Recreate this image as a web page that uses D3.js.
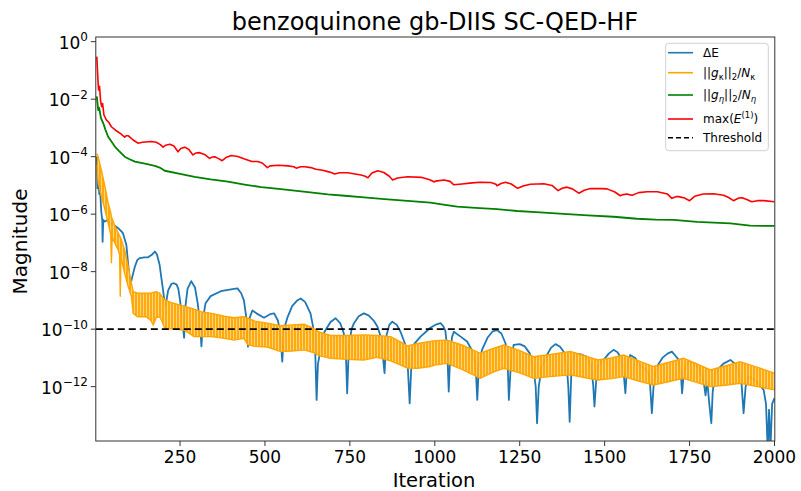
<!DOCTYPE html>
<html>
<head>
<meta charset="utf-8">
<script src="https://cdn.jsdelivr.net/npm/d3@7/dist/d3.min.js"></script>
<style>
  html, body { margin: 0; padding: 0; background: #fff; }
  svg text { font-family: "DejaVu Sans", sans-serif; fill: #000; }
</style>
</head>
<body>
<svg id="chart" width="801" height="491"></svg>
<script>
// ---------------- data ----------------
const title = "benzoquinone gb-DIIS SC-QED-HF";
const xLabel = "Iteration";
const yLabel = "Magnitude";
const xTicks = [250, 500, 750, 1000, 1250, 1500, 1750, 2000];
const yTicks = [1, 1e-2, 1e-4, 1e-6, 1e-8, 1e-10, 1e-12];
const yTickExponents = ["0", "\u22122", "\u22124", "\u22126", "\u22128", "\u221210", "\u221212"];
const threshold = 1e-10;

// ΔE  [iteration, value]
const deltaE = [
 [5,1.00e-4],[7,7.94e-6],[9,3.98e-5],[12,5.01e-6],[14,1.00e-5],[18,1.26e-6],[21,6.31e-7],[22,1.10e-7],[24,6.31e-7],
 [29,5.50e-7],[36,6.31e-7],[43,4.79e-7],[55,4.17e-7],[68,3.24e-7],[82,2.19e-7],[92,8.51e-8],[97,1.95e-8],[101,6.31e-9],
 [105,3.98e-9],[109,6.31e-9],[117,1.48e-8],[124,2.51e-8],[131,2.95e-8],[145,3.16e-8],[156,3.16e-8],[168,3.98e-8],
 [176,5.01e-8],[182,3.98e-8],[190,1.70e-8],[196,5.01e-9],[200,2.29e-9],[205,7.94e-10],[207,6.03e-10],[215,2.24e-9],
 [225,3.80e-9],[232,3.98e-9],[240,3.55e-9],[245,2.51e-9],[250,1.00e-9],[256,2.51e-10],[262,5.01e-11],[266,6.31e-10],
 [272,2.51e-9],[283,4.68e-9],[294,2.82e-9],[302,7.94e-10],[308,2.00e-10],[313,2.51e-11],[318,2.51e-10],[325,7.94e-10],
 [340,1.41e-9],[370,2.09e-9],[400,2.40e-9],[419,2.63e-9],[430,1.78e-9],[438,1.00e-9],[444,3.16e-10],[450,2.45e-11],
 [455,2.51e-10],[463,4.47e-10],[475,3.55e-10],[497,2.51e-10],[515,3.31e-10],[527,3.55e-10],[538,2.00e-10],[545,7.94e-11],
 [551,7.41e-12],[556,1.00e-10],[566,2.51e-10],[580,6.31e-10],[595,1.00e-9],[605,1.17e-9],[618,8.91e-10],[634,3.55e-10],
 [643,1.00e-10],[648,1.58e-11],[652,3.47e-13],[656,6.31e-12],[664,1.91e-11],[675,7.94e-11],[693,1.78e-10],[708,2.40e-10],
 [722,1.58e-10],[732,7.24e-11],[738,1.58e-11],[742,5.89e-13],[747,2.51e-11],[755,1.00e-10],[762,1.62e-10],[776,2.82e-10],
 [791,3.55e-10],[805,3.02e-10],[820,2.00e-10],[831,1.23e-10],[842,5.01e-11],[852,2.95e-12],[858,6.31e-11],[866,1.41e-10],
 [875,1.82e-10],[888,1.41e-10],[899,8.13e-11],[912,3.16e-11],[920,6.31e-12],[926,2.63e-13],[932,1.00e-11],[940,3.16e-11],
 [958,5.50e-11],[987,1.12e-10],[1005,1.48e-10],[1017,1.62e-10],[1025,1.26e-10],[1031,8.91e-11],[1036,2.51e-11],[1041,6.76e-13],
 [1046,2.00e-11],[1051,5.50e-11],[1056,8.13e-11],[1075,5.62e-11],[1095,3.72e-11],[1110,1.78e-11],[1120,6.31e-12],[1125,3.47e-13],
 [1130,6.31e-12],[1139,1.91e-11],[1155,5.01e-11],[1170,8.32e-11],[1183,9.33e-11],[1196,7.08e-11],[1208,3.24e-11],[1214,1.00e-11],
 [1218,3.47e-13],[1224,6.31e-12],[1232,2.82e-11],[1250,3.02e-11],[1265,2.51e-11],[1280,1.41e-11],[1291,3.80e-12],[1297,1.00e-12],
 [1301,5.37e-14],[1306,1.00e-12],[1315,5.01e-12],[1330,1.26e-11],[1342,2.24e-11],[1355,3.02e-11],[1368,2.51e-11],[1379,1.66e-11],
 [1388,6.31e-12],[1393,1.00e-12],[1397,6.03e-14],[1402,3.16e-12],[1409,1.45e-11],[1430,1.32e-11],[1448,1.10e-11],[1460,5.01e-12],
 [1466,1.26e-12],[1470,2.04e-13],[1475,1.58e-12],[1478,5.01e-12],[1497,8.51e-12],[1512,1.41e-11],[1526,1.91e-11],[1538,1.58e-11],
 [1546,1.10e-11],[1555,3.98e-12],[1561,5.89e-13],[1566,5.01e-12],[1575,1.26e-11],[1590,1.00e-11],[1605,5.01e-12],[1625,3.80e-12],
 [1633,1.58e-12],[1639,1.20e-13],[1645,1.58e-12],[1654,5.01e-12],[1670,1.00e-11],[1685,1.41e-11],[1698,1.66e-11],[1710,1.12e-11],
 [1718,8.51e-12],[1724,3.16e-12],[1728,5.89e-13],[1733,3.16e-12],[1746,7.41e-12],[1765,6.31e-12],[1780,3.98e-12],[1791,1.70e-12],
 [1797,5.01e-13],[1802,1.58e-12],[1808,2.51e-13],[1814,5.37e-14],[1818,6.31e-13],[1824,2.51e-12],[1831,3.80e-12],[1850,6.31e-12],
 [1870,8.51e-12],[1883,6.31e-12],[1894,3.80e-12],[1903,1.26e-12],[1909,1.20e-13],[1915,1.00e-12],[1924,2.24e-12],[1945,1.58e-12],
 [1960,1.00e-12],[1968,7.76e-13],[1975,2.51e-13],[1980,6.31e-15],[1984,1.58e-13],[1988,6.31e-15],[1993,2.51e-13],[2000,3.98e-13]
];

// ||g_kappa||_2/N_kappa : oscillating series, [iteration, upper swing, lower swing]
const gKappa = [
 [5,1.26e-4,5.01e-5],[9,1.00e-4,1.26e-5],[19,3.16e-5,3.98e-6],[29,9.12e-6,1.41e-6],[38,2.51e-6,5.01e-7],[46,1.12e-6,2.00e-7],
 [48,8.13e-7,1.95e-8],[50,7.08e-7,1.58e-7],[58,3.98e-7,1.00e-7],[68,2.19e-7,5.62e-8],[72,1.78e-7,3.98e-8],[74,1.58e-7,1.35e-9],
 [76,1.41e-7,3.16e-8],[87,5.62e-8,8.71e-9],[97,1.58e-8,3.16e-9],[107,3.98e-9,1.35e-9],[112,2.00e-9,3.55e-10],[125,1.78e-9,2.69e-10],
 [150,1.78e-9,2.69e-10],[164,1.78e-9,2.00e-10],[171,1.91e-9,1.41e-10],[180,2.00e-9,2.51e-10],[190,1.78e-9,2.69e-10],[196,1.41e-9,2.00e-10],
 [205,1.05e-9,1.07e-10],[230,7.94e-10,1.00e-10],[262,6.31e-10,9.33e-11],[291,5.01e-10,5.50e-11],[311,4.07e-10,5.50e-11],[343,3.55e-10,5.50e-11],
 [380,2.82e-10,4.79e-11],[409,2.51e-10,4.17e-11],[438,2.69e-10,4.79e-11],[450,2.40e-10,2.82e-11],[470,1.91e-10,2.51e-11],[507,1.62e-10,2.40e-11],
 [546,1.32e-10,1.66e-11],[580,1.41e-10,1.74e-11],[615,1.48e-10,1.91e-11],[640,1.12e-10,1.58e-11],[660,7.94e-11,1.20e-11],[693,6.03e-11,9.77e-12],
 [740,6.03e-11,8.91e-12],[791,6.31e-11,8.51e-12],[830,6.03e-11,1.05e-11],[870,5.50e-11,7.94e-12],[900,3.55e-11,5.62e-12],[919,2.63e-11,4.47e-12],
 [950,3.16e-11,4.37e-12],[987,3.72e-11,5.01e-12],[1000,3.98e-11,5.62e-12],[1036,4.17e-11,6.46e-12],[1080,2.82e-11,3.98e-12],[1134,1.45e-11,1.95e-12],
 [1170,2.09e-11,3.16e-12],[1203,2.82e-11,4.37e-12],[1250,1.78e-11,3.02e-12],[1291,1.10e-11,1.95e-12],[1340,1.32e-11,2.24e-12],[1399,1.66e-11,2.57e-12],
 [1440,1.20e-11,2.09e-12],[1480,8.51e-12,1.70e-12],[1520,1.00e-11,1.91e-12],[1556,1.26e-11,2.24e-12],[1600,7.94e-12,1.58e-12],[1644,5.01e-12,1.15e-12],
 [1690,7.08e-12,1.51e-12],[1732,9.77e-12,1.95e-12],[1770,6.31e-12,1.41e-12],[1811,3.80e-12,1.00e-12],[1855,5.25e-12,1.12e-12],[1899,7.41e-12,1.32e-12],
 [1950,4.68e-12,1.00e-12],[2000,2.95e-12,7.76e-13]
];

// ||g_eta||_2/N_eta
const gEta = [
 [5,1.26e-2],[9,4.17e-3],[12,5.01e-3],[17,2.24e-3],[24,1.45e-3],[30,8.91e-4],[38,5.01e-4],[45,3.80e-4],[58,2.24e-4],[70,1.58e-4],
 [87,1.00e-4],[100,8.32e-5],[117,6.76e-5],[150,5.62e-5],[176,4.79e-5],[190,4.17e-5],[205,3.24e-5],[250,2.51e-5],[293,2.00e-5],
 [340,1.62e-5],[391,1.35e-5],[440,1.07e-5],[489,8.71e-6],[540,7.59e-6],[587,6.61e-6],[640,5.62e-6],[685,4.90e-6],[735,4.37e-6],
 [783,3.89e-6],[852,3.31e-6],[920,2.88e-6],[987,2.51e-6],[1030,2.09e-6],[1066,1.82e-6],[1120,1.66e-6],[1183,1.51e-6],[1242,1.29e-6],
 [1310,1.15e-6],[1379,1.02e-6],[1450,9.12e-7],[1526,8.13e-7],[1595,6.92e-7],[1650,6.46e-7],[1703,6.31e-7],[1772,5.37e-7],[1870,4.79e-7],
 [1928,3.98e-7],[2000,3.89e-7]
];

// max(E^(1))
const maxE1 = [
 [5,3.02e-1],[8,5.62e-2],[10,2.09e-2],[13,2.82e-2],[16,8.91e-3],[19,5.50e-3],[22,7.08e-3],[26,2.82e-3],[33,1.91e-3],[40,1.58e-3],
 [48,1.10e-3],[60,8.32e-4],[75,6.31e-4],[87,4.79e-4],[92,5.37e-4],[97,5.37e-4],[103,4.68e-4],[112,3.80e-4],[126,2.95e-4],[140,3.16e-4],
 [165,3.39e-4],[180,3.16e-4],[192,2.63e-4],[200,2.14e-4],[208,2.51e-4],[220,2.69e-4],[232,2.34e-4],[244,1.48e-4],[252,1.91e-4],
 [264,2.14e-4],[276,1.78e-4],[288,1.15e-4],[297,1.35e-4],[308,1.38e-4],[322,1.20e-4],[337,8.71e-5],[345,9.77e-5],[352,1.00e-4],
 [362,8.71e-5],[374,7.24e-5],[385,9.33e-5],[401,1.10e-4],[420,1.02e-4],[440,8.32e-5],[455,7.24e-5],[462,6.76e-5],[478,6.76e-5],
 [492,6.03e-5],[507,4.17e-5],[515,4.79e-5],[540,5.01e-5],[568,4.79e-5],[585,4.47e-5],[592,3.98e-5],[605,4.47e-5],[617,4.47e-5],
 [635,4.17e-5],[650,3.63e-5],[670,3.39e-5],[685,3.02e-5],[695,2.82e-5],[705,2.51e-5],[720,2.75e-5],[744,2.75e-5],[765,2.51e-5],
 [783,2.29e-5],[795,2.09e-5],[803,1.86e-5],[815,2.69e-5],[832,3.24e-5],[850,2.82e-5],[866,2.09e-5],[876,1.55e-5],[890,1.82e-5],
 [920,2.00e-5],[960,1.91e-5],[985,1.58e-5],[999,1.32e-5],[1002,1.41e-5],[1027,1.55e-5],[1045,1.38e-5],[1056,1.05e-5],[1080,1.12e-5],
 [1110,1.23e-5],[1134,1.29e-5],[1165,1.26e-5],[1180,1.10e-5],[1183,9.77e-6],[1195,1.17e-5],[1208,1.29e-5],[1225,1.12e-5],[1244,7.94e-6],
 [1260,9.55e-6],[1281,1.10e-5],[1321,1.15e-5],[1345,1.00e-5],[1363,6.61e-6],[1375,7.94e-6],[1389,8.71e-6],[1405,7.59e-6],[1424,5.37e-6],
 [1440,6.76e-6],[1458,7.76e-6],[1490,7.76e-6],[1507,7.59e-6],[1530,5.89e-6],[1546,4.37e-6],[1555,4.79e-6],[1566,5.01e-6],[1575,4.68e-6],
 [1581,4.57e-6],[1600,5.62e-6],[1625,6.03e-6],[1655,6.03e-6],[1685,5.01e-6],[1698,3.55e-6],[1710,4.07e-6],[1718,4.07e-6],[1735,3.63e-6],
 [1750,2.95e-6],[1765,4.17e-6],[1790,5.01e-6],[1820,5.13e-6],[1850,4.57e-6],[1865,3.80e-6],[1879,2.95e-6],[1895,3.63e-6],[1905,3.72e-6],
 [1920,3.16e-6],[1933,2.69e-6],[1950,2.95e-6],[1968,2.95e-6],[2000,2.69e-6]
];

// ---------------- drawing ----------------
const svg = d3.select("#chart");
const P = { left: 95.8, right: 774.8, top: 37, bottom: 441 };

const x = d3.scaleLinear().domain([2, 2000]).range([P.left, 774.5]);
const y = d3.scaleLog().domain([1.288e-14, 1.455]).range([P.bottom, P.top]);

const defs = svg.append("defs");
defs.append("clipPath").attr("id", "plotclip")
  .append("rect").attr("x", P.left).attr("y", P.top)
  .attr("width", P.right - P.left).attr("height", P.bottom - P.top);

const pat = defs.append("pattern").attr("id", "orangeStripes")
  .attr("patternUnits", "userSpaceOnUse").attr("width", 3).attr("height", 10);
pat.append("rect").attr("width", 3).attr("height", 10).attr("fill", "#ffd27a");
pat.append("rect").attr("width", 2).attr("height", 10).attr("fill", "#ffa500");

const plot = svg.append("g").attr("clip-path", "url(#plotclip)");

const line = d3.line().x(d => x(d[0])).y(d => y(d[1]));

// ΔE
plot.append("path").datum(deltaE).attr("d", line)
  .attr("fill", "none").attr("stroke", "#1f77b4").attr("stroke-width", 1.8)
  .attr("stroke-linejoin", "round");

// ||g_kappa|| band (fast oscillation between the two swings)
const band = d3.area().x(d => x(d[0])).y0(d => y(d[2])).y1(d => y(d[1]));
plot.append("path").datum(gKappa).attr("d", band)
  .attr("fill", "url(#orangeStripes)").attr("fill-opacity", 0.95);
plot.append("path").datum(gKappa.map(d => [d[0], d[1]])).attr("d", line)
  .attr("fill", "none").attr("stroke", "#ffa500").attr("stroke-width", 1.4);
plot.append("path").datum(gKappa.map(d => [d[0], d[2]])).attr("d", line)
  .attr("fill", "none").attr("stroke", "#ffa500").attr("stroke-width", 1.4);

// ||g_eta||
plot.append("path").datum(gEta).attr("d", line)
  .attr("fill", "none").attr("stroke", "#008000").attr("stroke-width", 1.8)
  .attr("stroke-linejoin", "round");

// max(E1)
plot.append("path").datum(maxE1).attr("d", line)
  .attr("fill", "none").attr("stroke", "#ff0000").attr("stroke-width", 1.6)
  .attr("stroke-linejoin", "round");

// threshold
plot.append("line")
  .attr("x1", P.left).attr("x2", P.right)
  .attr("y1", y(threshold)).attr("y2", y(threshold))
  .attr("stroke", "#000").attr("stroke-width", 1.8).attr("stroke-dasharray", "7,4");

// frame
svg.append("rect").attr("x", P.left).attr("y", P.top)
  .attr("width", P.right - P.left).attr("height", P.bottom - P.top)
  .attr("fill", "none").attr("stroke", "#333").attr("stroke-width", 1);

// x axis ticks
const xg = svg.append("g");
xTicks.forEach(t => {
  const px = x(t);
  xg.append("line").attr("x1", px).attr("x2", px).attr("y1", P.bottom).attr("y2", P.bottom + 5)
    .attr("stroke", "#333").attr("stroke-width", 1);
  xg.append("text").attr("x", px).attr("y", 463).attr("text-anchor", "middle")
    .attr("font-size", 17).text(t);
});

// y axis ticks
const yg = svg.append("g");
yTicks.forEach((t, i) => {
  const py = y(t);
  yg.append("line").attr("x1", P.left - 5).attr("x2", P.left).attr("y1", py).attr("y2", py)
    .attr("stroke", "#333").attr("stroke-width", 1);
  const tx = yg.append("text").attr("x", 88).attr("y", py + 7).attr("text-anchor", "end")
    .attr("font-size", 17);
  tx.append("tspan").text("10");
  tx.append("tspan").attr("dy", -7.5).attr("font-size", 12).text(yTickExponents[i]);
});

// axis labels and title
svg.append("text").attr("x", 434).attr("y", 486.5).attr("text-anchor", "middle")
  .attr("font-size", 19.5).text(xLabel);
svg.append("text").attr("transform", "translate(27,241.5) rotate(-90)")
  .attr("text-anchor", "middle").attr("font-size", 20).text(yLabel);
svg.append("text").attr("x", 435).attr("y", 30).attr("text-anchor", "middle")
  .attr("font-size", 24).text(title);

// legend
const lg = svg.append("g");
lg.append("rect").attr("x", 665.7).attr("y", 43.3).attr("width", 102.6).attr("height", 107.4)
  .attr("rx", 3).attr("fill", "#fff").attr("fill-opacity", 0.8)
  .attr("stroke", "#d0d0d0").attr("stroke-width", 1);

const legendItems = [
  { color: "#1f77b4", dash: null, y: 52.7, parts: [["\u0394E"]] },
  { color: "#ffa500", dash: null, y: 72.7, parts: [["||"], ["g", "i"], ["\u03BA", "sub"], ["||", "base"], ["2", "sub"], ["/", "base"], ["N", "i"], ["\u03BA", "sub"]] },
  { color: "#008000", dash: null, y: 95, parts: [["||"], ["g", "i"], ["\u03B7", "subi"], ["||", "base"], ["2", "sub"], ["/", "base"], ["N", "i"], ["\u03B7", "subi"]] },
  { color: "#ff0000", dash: null, y: 119, parts: [["max("], ["E", "i"], ["(1)", "sup"], [")", "base2"]] },
  { color: "#000000", dash: "5,3", y: 137.7, parts: [["Threshold"]] }
];
legendItems.forEach(it => {
  lg.append("line").attr("x1", 668).attr("x2", 693).attr("y1", it.y).attr("y2", it.y)
    .attr("stroke", it.color).attr("stroke-width", 1.6)
    .attr("stroke-dasharray", it.dash);
  const t = lg.append("text").attr("x", 703).attr("y", it.y + 4.3).attr("font-size", 12);
  let state = "base";
  it.parts.forEach(p => {
    const s = t.append("tspan").text(p[0]);
    const kind = p[1] || "plain";
    if (kind === "i") { s.attr("font-style", "italic"); }
    if (kind === "sub" || kind === "subi") {
      s.attr("font-size", 8.5);
      if (kind === "subi") s.attr("font-style", "italic");
      if (state !== "sub") s.attr("dy", 3);
      state = "sub";
    }
    else if (kind === "sup") { s.attr("font-size", 8.5); s.attr("dy", -5); state = "sup"; }
    else if (kind === "base2") { s.attr("dy", 5); state = "base"; }
    else { if (state === "sub") s.attr("dy", -3); state = "base"; }
  });
});
</script>
</body>
</html>
